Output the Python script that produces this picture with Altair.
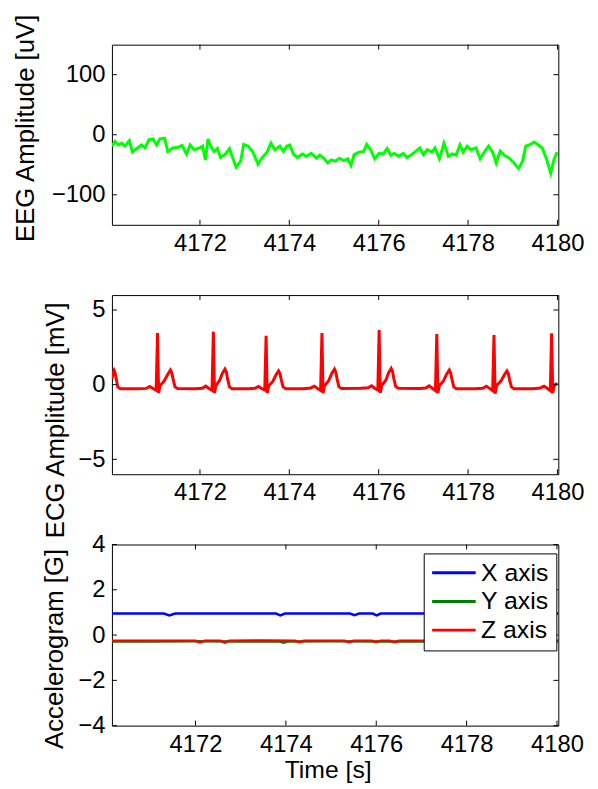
import altair as alt
import pandas as pd

FONT = "Liberation Sans"

# ---------------- data ----------------
eeg_t = [4170.03, 4170.10, 4170.18, 4170.25, 4170.32, 4170.42, 4170.49, 4170.58, 4170.69, 4170.77,
         4170.86, 4170.95, 4171.03, 4171.10, 4171.21, 4171.28, 4171.39, 4171.51, 4171.60, 4171.70,
         4171.78, 4171.87, 4171.99, 4172.06, 4172.12, 4172.18, 4172.24, 4172.32, 4172.39, 4172.46,
         4172.56, 4172.66, 4172.72, 4172.81, 4172.91, 4172.98, 4173.08, 4173.18, 4173.30, 4173.39,
         4173.50, 4173.59, 4173.68, 4173.79, 4173.87, 4173.94, 4174.01, 4174.09, 4174.18, 4174.29,
         4174.38, 4174.49, 4174.61, 4174.68, 4174.77, 4174.86, 4174.94, 4175.03, 4175.12, 4175.22,
         4175.31, 4175.38, 4175.45, 4175.56, 4175.66, 4175.73, 4175.82, 4175.91, 4176.01, 4176.10,
         4176.19, 4176.27, 4176.35, 4176.45, 4176.55, 4176.63, 4176.72, 4176.82, 4176.92, 4177.00,
         4177.09, 4177.19, 4177.26, 4177.36, 4177.46, 4177.56, 4177.65, 4177.73, 4177.82, 4177.89,
         4177.98, 4178.07, 4178.18, 4178.27, 4178.37, 4178.46, 4178.55, 4178.63, 4178.72, 4178.81,
         4178.92, 4179.03, 4179.13, 4179.22, 4179.29, 4179.37, 4179.48, 4179.57, 4179.66, 4179.75,
         4179.85, 4179.92, 4179.99]
eeg_v = [-19, -11, -17, -14, -19, -10, -29, -23, -17, -22,
         -8, -7, -17, -7, -6, -28, -22, -21, -18, -32,
         -17, -25, -22, -19, -42, -7, -19, -28, -23, -38,
         -33, -23, -36, -54, -44, -16, -19, -28, -49, -38,
         -29, -14, -25, -19, -28, -19, -17, -32, -38, -32,
         -36, -31, -39, -34, -39, -47, -42, -44, -39, -43,
         -40, -51, -33, -29, -28, -16, -25, -40, -31, -32,
         -23, -34, -31, -36, -31, -38, -34, -28, -22, -33,
         -25, -29, -22, -40, -14, -36, -32, -34, -17, -29,
         -19, -25, -22, -40, -28, -19, -29, -47, -27, -34,
         -39, -47, -56, -44, -19, -17, -12, -17, -22, -39,
         -64, -42, -29]

ecg_t = [4170.03, 4170.06, 4170.08, 4170.10, 4170.13, 4170.16, 4170.22,
         4170.60, 4170.80, 4170.88, 4170.95, 4171.02, 4171.05, 4171.075, 4171.11, 4171.20, 4171.28, 4171.34, 4171.37, 4171.40, 4171.44, 4171.50,
         4171.90, 4172.05, 4172.13, 4172.20, 4172.27, 4172.30, 4172.325, 4172.36, 4172.44, 4172.50, 4172.56, 4172.59, 4172.62, 4172.66, 4172.72,
         4173.10, 4173.23, 4173.31, 4173.38, 4173.45, 4173.48, 4173.505, 4173.54, 4173.63, 4173.70, 4173.76, 4173.79, 4173.82, 4173.86, 4173.92,
         4174.30, 4174.48, 4174.56, 4174.63, 4174.70, 4174.73, 4174.755, 4174.79, 4174.88, 4174.95, 4175.01, 4175.04, 4175.07, 4175.11, 4175.17,
         4175.60, 4175.76, 4175.84, 4175.91, 4175.98, 4176.01, 4176.035, 4176.07, 4176.16, 4176.22, 4176.28, 4176.31, 4176.34, 4176.38, 4176.44,
         4176.90, 4177.05, 4177.13, 4177.20, 4177.27, 4177.30, 4177.325, 4177.36, 4177.45, 4177.52, 4177.58, 4177.61, 4177.64, 4177.68, 4177.74,
         4178.15, 4178.33, 4178.41, 4178.48, 4178.55, 4178.58, 4178.605, 4178.64, 4178.73, 4178.81, 4178.87, 4178.90, 4178.93, 4178.97, 4179.03,
         4179.45, 4179.62, 4179.70, 4179.77, 4179.84, 4179.87, 4179.895, 4179.93, 4179.97, 4180.00]
ecg_v = [0.38, 0.80, 0.95, 0.80, 0.35, -0.15, -0.27,
         -0.28, -0.25, -0.12, -0.26, -0.38, 3.46, -0.55, -0.05, 0.25, 0.70, 0.98, 0.80, 0.35, -0.15, -0.26,
         -0.27, -0.24, -0.10, -0.26, -0.38, 3.55, -0.55, -0.05, 0.28, 0.75, 1.04, 0.85, 0.35, -0.15, -0.27,
         -0.28, -0.24, -0.12, -0.26, -0.36, 3.28, -0.55, -0.08, 0.22, 0.65, 0.92, 0.75, 0.32, -0.15, -0.27,
         -0.27, -0.22, -0.10, -0.25, -0.38, 3.46, -0.58, -0.06, 0.26, 0.75, 1.04, 0.85, 0.35, -0.15, -0.26,
         -0.24, -0.21, -0.08, -0.24, -0.36, 3.66, -0.55, -0.04, 0.30, 0.78, 1.08, 0.88, 0.38, -0.12, -0.24,
         -0.25, -0.22, -0.08, -0.24, -0.40, 3.39, -0.55, -0.05, 0.25, 0.70, 0.98, 0.80, 0.35, -0.15, -0.27,
         -0.28, -0.24, -0.10, -0.25, -0.40, 3.33, -0.60, -0.06, 0.22, 0.65, 0.92, 0.75, 0.32, -0.15, -0.28,
         -0.27, -0.22, -0.10, -0.24, -0.40, 3.44, -0.55, -0.05, 0.05, 0.02]

acc_x_t = [4170.15, 4171.30, 4171.42, 4171.55, 4173.78, 4173.88, 4173.98, 4175.42, 4175.52, 4175.62,
           4175.92, 4176.01, 4176.10, 4180.03]
acc_x_v = [0.95, 0.95, 0.87, 0.95, 0.95, 0.87, 0.95, 0.95, 0.88, 0.95,
           0.95, 0.87, 0.95, 0.95]
acc_y_t = [4170.15, 4171.0, 4172.0, 4173.0, 4173.85, 4173.95, 4174.05, 4175.0, 4176.0, 4177.0,
           4178.0, 4179.0, 4180.03]
acc_y_v = [-0.28, -0.28, -0.27, -0.28, -0.28, -0.34, -0.28, -0.27, -0.28, -0.28,
           -0.28, -0.28, -0.28]
acc_z_t = [4170.15, 4171.5, 4172.0, 4172.1, 4172.2, 4172.55, 4172.65, 4172.75, 4173.5, 4174.2,
           4174.3, 4174.4, 4175.3, 4175.4, 4175.5, 4175.9, 4176.0, 4176.1, 4176.3, 4176.4,
           4176.5, 4177.5, 4180.03]
acc_z_v = [-0.25, -0.25, -0.25, -0.32, -0.25, -0.25, -0.33, -0.25, -0.24, -0.25,
           -0.31, -0.25, -0.25, -0.31, -0.25, -0.25, -0.30, -0.25, -0.25, -0.31,
           -0.25, -0.25, -0.25]

series_names = ["X axis", "Y axis", "Z axis"]
series_colors = ["#0000ff", "#008000", "#ff0000"]

x_ticks = [4172, 4174, 4176, 4178, 4180]
eeg_ticks = [-100, 0, 100]
ecg_ticks = [-5, 0, 5]
acc_ticks = [-4, -2, 0, 2, 4]

eeg_xdom = [4170.03, 4180.02]
ecg_xdom = [4170.03, 4180.02]
acc_xdom = [4170.15, 4180.03]
eeg_ydom = [-150, 150]
ecg_ydom = [-6, 6]
acc_ydom = [-4, 4]

W = 451
H1, H2, H3 = 182, 181, 183
TL = 5  # inward tick length


def inward_ticks(xdom, ydom, xt, yt, w, h):
    xs = alt.Scale(domain=xdom, nice=False, zero=False)
    ys = alt.Scale(domain=ydom, nice=False, zero=False)
    xdf = pd.DataFrame({"t": xt})
    ydf = pd.DataFrame({"v": yt})
    rule = dict(color="black", strokeWidth=1)
    bottom = alt.Chart(xdf).mark_rule(**rule).encode(
        x=alt.X("t:Q", scale=xs), y=alt.value(h), y2=alt.value(h - TL))
    top = alt.Chart(xdf).mark_rule(**rule).encode(
        x=alt.X("t:Q", scale=xs), y=alt.value(0), y2=alt.value(TL))
    left = alt.Chart(ydf).mark_rule(**rule).encode(
        y=alt.Y("v:Q", scale=ys), x=alt.value(0), x2=alt.value(TL))
    right = alt.Chart(ydf).mark_rule(**rule).encode(
        y=alt.Y("v:Q", scale=ys), x=alt.value(w - TL), x2=alt.value(w))
    return [bottom, top, left, right]


def xaxis(title=None, **kw):
    return alt.Axis(values=x_ticks, format="d", title=title, **kw)


def yaxis(vals, title, tx, ty):
    return alt.Axis(values=vals, format="d", title=title, titleX=tx, titleY=ty,
                    titleAngle=270, titleAlign="center", titleBaseline="alphabetic",
                    titleFontSize=26)


# ---------------- EEG ----------------
eeg_df = pd.DataFrame({"t": eeg_t, "v": eeg_v})
eeg_line = alt.Chart(eeg_df).mark_line(color="#00ff00", strokeWidth=3, clip=True).encode(
    x=alt.X("t:Q", scale=alt.Scale(domain=eeg_xdom, nice=False, zero=False), axis=xaxis()),
    y=alt.Y("v:Q", scale=alt.Scale(domain=eeg_ydom, nice=False, zero=False),
            axis=yaxis(eeg_ticks, "EEG Amplitude [uV]", -79, 84)),
)
p1 = alt.layer(eeg_line, *inward_ticks(eeg_xdom, eeg_ydom, x_ticks, eeg_ticks, W, H1)).properties(
    width=W, height=H1)

# ---------------- ECG ----------------
ecg_df = pd.DataFrame({"t": ecg_t, "v": ecg_v})
ecg_line = alt.Chart(ecg_df).mark_line(color="#ff0000", strokeWidth=3, clip=True).encode(
    x=alt.X("t:Q", scale=alt.Scale(domain=ecg_xdom, nice=False, zero=False), axis=xaxis()),
    y=alt.Y("v:Q", scale=alt.Scale(domain=ecg_ydom, nice=False, zero=False),
            axis=yaxis(ecg_ticks, "ECG Amplitude [mV]", -49, 126)),
)
p2 = alt.layer(ecg_line, *inward_ticks(ecg_xdom, ecg_ydom, x_ticks, ecg_ticks, W, H2)).properties(
    width=W, height=H2)

# ---------------- Accelerogram ----------------
acc_df = pd.concat([
    pd.DataFrame({"t": acc_x_t, "v": acc_x_v, "axis": series_names[0]}),
    pd.DataFrame({"t": acc_y_t, "v": acc_y_v, "axis": series_names[1]}),
    pd.DataFrame({"t": acc_z_t, "v": acc_z_v, "axis": series_names[2]}),
], ignore_index=True)
acc_line = alt.Chart(acc_df).mark_line(strokeWidth=2.5, clip=True).encode(
    x=alt.X("t:Q", scale=alt.Scale(domain=acc_xdom, nice=False, zero=False),
            axis=xaxis("Time [s]", titleX=218, titleY=52, titleBaseline="alphabetic",
                       titleAlign="center", titleFontSize=25)),
    y=alt.Y("v:Q", scale=alt.Scale(domain=acc_ydom, nice=False, zero=False),
            axis=yaxis(acc_ticks, "Accelerogram [G]", -50, 105)),
    color=alt.Color("axis:N", scale=alt.Scale(domain=series_names, range=series_colors),
                    legend=alt.Legend(orient="none", legendX=315, legendY=9, title=None,
                                      symbolType="stroke", symbolSize=1936, symbolStrokeWidth=3,
                                      clipHeight=25,
                                      labelFont=FONT, labelFontSize=25, labelColor="black",
                                      labelOffset=4, rowPadding=3, padding=7,
                                      strokeColor="black", fillColor="white", cornerRadius=0)),
    order=alt.Order("axis:N"),
)
p3 = alt.layer(acc_line, *inward_ticks(acc_xdom, acc_ydom, x_ticks, acc_ticks, W, H3)).properties(
    width=W, height=H3)

chart = alt.vconcat(p1, p2, p3, spacing=71, bounds="flush").resolve_scale(
    color="independent"
).resolve_legend(color="independent").properties(
    background="white",
    padding={"left": 4, "top": 0, "right": 5, "bottom": 5},
).configure_view(
    stroke="black", strokeWidth=1
).configure_axis(
    labelFont=FONT, labelFontSize=24, labelColor="black", labelPadding=7,
    titleFont=FONT, titleFontSize=25, titleColor="black", titleFontWeight="normal",
    grid=False, ticks=False, domain=False, labelFlush=False, labelOverlap=False,
)

chart.save("out.html", embed_options={"renderer": "svg", "actions": False})
